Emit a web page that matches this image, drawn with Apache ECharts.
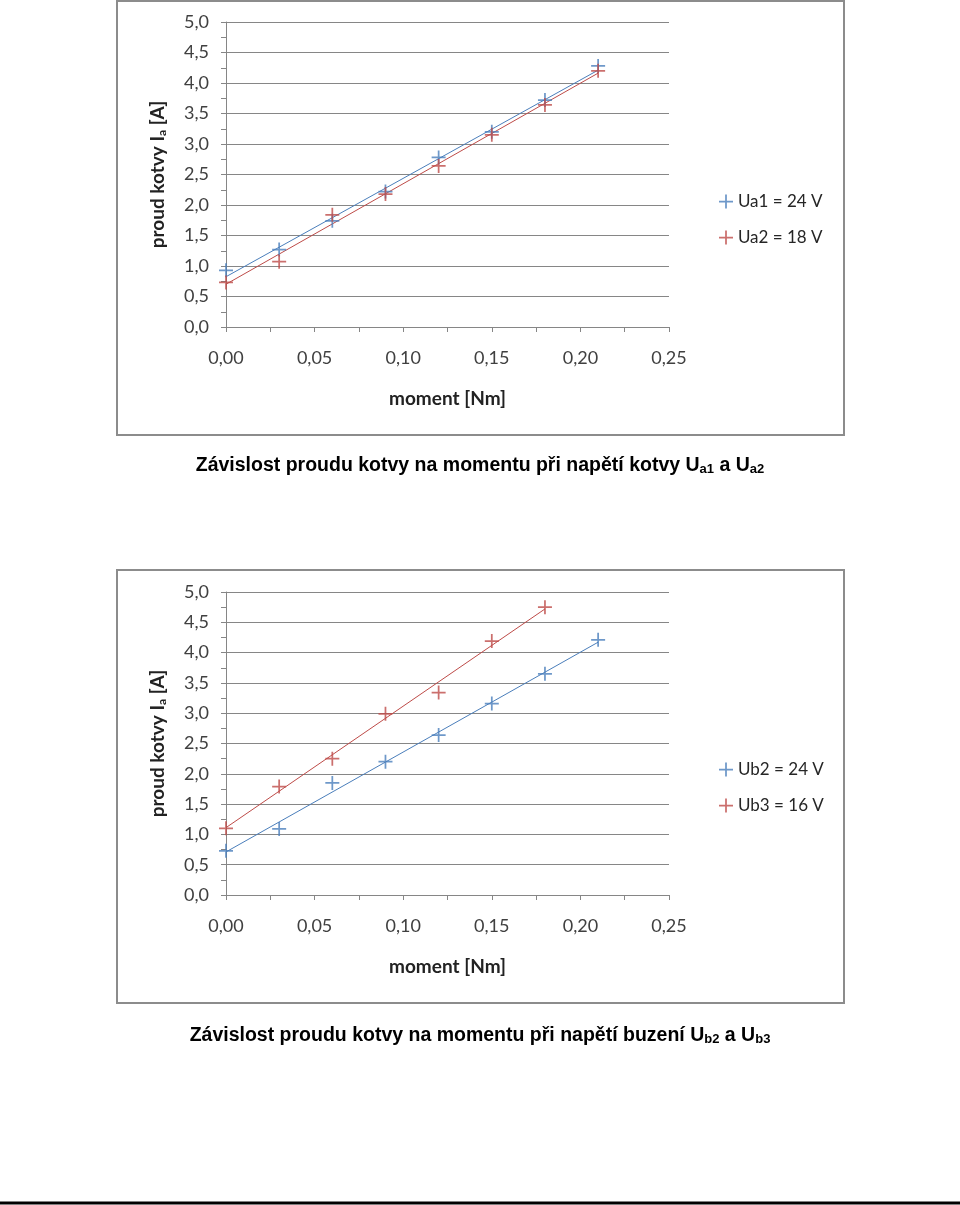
<!DOCTYPE html>
<html>
<head>
<meta charset="utf-8">
<script src="https://cdn.jsdelivr.net/npm/echarts@6/dist/echarts.min.js"></script>
<style>
  html, body { margin: 0; padding: 0; background: #fff; }
  #main { width: 960px; height: 1205px; }
</style>
</head>
<body>
<div id="main"></div>
<script>
// moment [Nm]
var momentA = [0, 0.03, 0.06, 0.09, 0.12, 0.15, 0.18, 0.21];
var momentB1 = [0, 0.03, 0.06, 0.09, 0.12, 0.15, 0.18, 0.21];
var momentB2 = [0, 0.03, 0.06, 0.09, 0.12, 0.15, 0.18];
// proud kotvy Ia [A]
var ua1 = [0.93, 1.27, 1.74, 2.22, 2.78, 3.20, 3.72, 4.28];
var ua2 = [0.73, 1.07, 1.84, 2.18, 2.64, 3.15, 3.64, 4.20];
var ub2 = [0.73, 1.09, 1.85, 2.20, 2.64, 3.16, 3.65, 4.21];
var ub3 = [1.10, 1.79, 2.25, 2.99, 3.34, 4.19, 4.75];
var names1 = ['Ua1 = 24 V', 'Ua2 = 18 V'];
var names2 = ['Ub2 = 24 V', 'Ub3 = 16 V'];

var BLUE = '#4a7ebb', RED = '#be4b48';
var CROSS = 'path://M7,0h2v16h-2zM0,7h16v2h-16z';

function pairs(xs, ys) {
    return xs.map(function (x, i) { return [x, ys[i]]; });
}
// linearni trend (metoda nejmensich ctvercu)
function trend(xs, ys) {
    var n = xs.length, sx = 0, sy = 0, sxx = 0, sxy = 0;
    for (var i = 0; i < n; i++) {
        sx += xs[i]; sy += ys[i]; sxx += xs[i] * xs[i]; sxy += xs[i] * ys[i];
    }
    var b = (n * sxy - sx * sy) / (n * sxx - sx * sx);
    var a = (sy - b * sx) / n;
    var x0 = xs[0], x1 = xs[n - 1];
    return [[x0, a + b * x0], [x1, a + b * x1]];
}

var lbl = { fontFamily: 'Lato', fontSize: 18, color: '#404040' };
var nameStyle = { fontFamily: 'Lato', fontSize: 19, fontWeight: 'bold', color: '#222' };

function xAxisOf(idx) {
    return {
        gridIndex: idx, type: 'value', min: 0, max: 0.25, interval: 0.05,
        axisLine: { lineStyle: { color: '#868686' } },
        axisTick: { show: true, length: 5, lineStyle: { color: '#868686' } },
        minorTick: { show: true, splitNumber: 2, length: 5, lineStyle: { color: '#868686' } },
        splitLine: { show: false },
        axisLabel: Object.assign({ margin: 22, formatter: function (v) { return v.toFixed(2).replace('.', ','); } }, lbl),
        name: 'moment [Nm]', nameLocation: 'middle', nameGap: 62, nameTextStyle: nameStyle
    };
}
function yAxisOf(idx) {
    return {
        gridIndex: idx, type: 'value', min: 0, max: 5, interval: 0.5,
        axisLine: { show: true, lineStyle: { color: '#868686' } },
        axisTick: { show: true, length: 5, lineStyle: { color: '#868686' } },
        minorTick: { show: true, splitNumber: 2, length: 5, lineStyle: { color: '#868686' } },
        splitLine: { show: true, lineStyle: { color: '#868686' } },
        axisLabel: Object.assign({ margin: 17, formatter: function (v) { return v.toFixed(1).replace('.', ','); } }, lbl),
        name: '{n|proud kotvy I}{s|a}{n| [A]}', nameLocation: 'middle', nameRotate: 90, nameGap: 58,
        nameTextStyle: {
            rich: {
                n: nameStyle,
                s: { fontFamily: 'Lato', fontSize: 12, fontWeight: 'bold', color: '#222', padding: [8, 0, 0, 0] }
            }
        }
    };
}
function scatter(name, idx, xs, ys, color) {
    return {
        name: name, type: 'scatter', xAxisIndex: idx, yAxisIndex: idx,
        symbol: CROSS, symbolSize: 14, data: pairs(xs, ys),
        itemStyle: { color: color }, z: 3
    };
}
function trendLine(idx, xs, ys, color) {
    return {
        type: 'line', xAxisIndex: idx, yAxisIndex: idx, data: trend(xs, ys),
        symbol: 'none', lineStyle: { color: color, width: 1 }, silent: true, z: 2
    };
}
function legendOf(top, names) {
    return {
        orient: 'vertical', left: 714, top: top, itemGap: 19, itemWidth: 14, itemHeight: 14,
        data: [{ name: names[0], icon: CROSS }, { name: names[1], icon: CROSS }],
        textStyle: { fontFamily: 'Lato', fontSize: 17, color: '#262626' }
    };
}
var titleRich = function (size) {
    return {
        t: { fontFamily: 'Liberation Sans', fontSize: size, fontWeight: 'bold', color: '#000' },
        s: { fontFamily: 'Liberation Sans', fontSize: Math.round(size * 0.68), fontWeight: 'bold', color: '#000', padding: [8, 0, 0, 0] }
    };
};

var myChart = echarts.init(document.getElementById('main'));
var option = {
    backgroundColor: '#fff',
    animation: false,
    title: [{
        text: '{t|Závislost proudu kotvy na momentu při napětí kotvy U}{s|a1}{t| a U}{s|a2}',
        left: 'center', top: 450, textStyle: { rich: titleRich(19.5) }
    }, {
        text: '{t|Závislost proudu kotvy na momentu při napětí buzení U}{s|b2}{t| a U}{s|b3}',
        left: 'center', top: 1020, textStyle: { rich: titleRich(19.5) }
    }],
    legend: [legendOf(188, names1), legendOf(756, names2)],
    grid: [
        { left: 226, top: 22, width: 443, height: 305 },
        { left: 226, top: 592, width: 443, height: 303 }
    ],
    xAxis: [xAxisOf(0), xAxisOf(1)],
    yAxis: [yAxisOf(0), yAxisOf(1)],
    graphic: [
        { type: 'rect', shape: { x: 117, y: 1, width: 727, height: 434 }, style: { fill: 'none', stroke: '#8c8c8c', lineWidth: 2 }, z: -1 },
        { type: 'rect', shape: { x: 117, y: 570, width: 727, height: 433 }, style: { fill: 'none', stroke: '#8c8c8c', lineWidth: 2 }, z: -1 },
        { type: 'line', shape: { x1: 0, y1: 1203, x2: 960, y2: 1203 }, style: { stroke: '#000', lineWidth: 3 } }
    ],
    series: [
        trendLine(0, momentA, ua1, BLUE),
        trendLine(0, momentA, ua2, RED),
        scatter(names1[0], 0, momentA, ua1, BLUE),
        scatter(names1[1], 0, momentA, ua2, RED),
        trendLine(1, momentB1, ub2, BLUE),
        trendLine(1, momentB2, ub3, RED),
        scatter(names2[0], 1, momentB1, ub2, BLUE),
        scatter(names2[1], 1, momentB2, ub3, RED)
    ]
};
myChart.setOption(option);
</script>
</body>
</html>
